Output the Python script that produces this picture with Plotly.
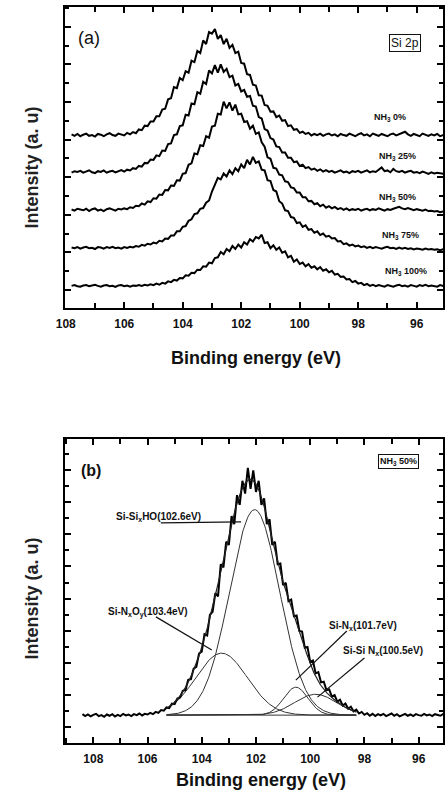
import numpy as np
import plotly.graph_objects as go

# ---------------- Panel (a): Si 2p spectra for different NH3 ratios ----------------
energy_a = [107.8, 107.7, 107.6, 107.5, 107.4, 107.3, 107.2, 107.1, 107.0, 106.9,
            106.8, 106.7, 106.6, 106.5, 106.4, 106.3, 106.2, 106.1, 106.0, 105.9,
            105.8, 105.7, 105.6, 105.5, 105.4, 105.3, 105.2, 105.1, 105.0, 104.9,
            104.8, 104.7, 104.6, 104.5, 104.4, 104.3, 104.2, 104.1, 104.0, 103.9,
            103.8, 103.7, 103.6, 103.5, 103.4, 103.3, 103.2, 103.1, 103.0, 102.9,
            102.8, 102.7, 102.6, 102.5, 102.4, 102.3, 102.2, 102.1, 102.0, 101.9,
            101.8, 101.7, 101.6, 101.5, 101.4, 101.3, 101.2, 101.1, 101.0, 100.9,
            100.8, 100.7, 100.6, 100.5, 100.4, 100.3, 100.2, 100.1, 100.0, 99.9,
            99.8, 99.7, 99.6, 99.5, 99.4, 99.3, 99.2, 99.1, 99.0, 98.9,
            98.8, 98.7, 98.6, 98.5, 98.4, 98.3, 98.2, 98.1, 98.0, 97.9,
            97.8, 97.7, 97.6, 97.5, 97.4, 97.3, 97.2, 97.1, 97.0, 96.9,
            96.8, 96.7, 96.6, 96.5, 96.4, 96.3, 96.2, 96.1, 96.0, 95.9,
            95.8, 95.7, 95.6, 95.5, 95.4, 95.3, 95.2, 95.1, 95.0]

nh3_0 = [0.02, -0.02, 0.03, -0.03, 0.01, 0.04, -0.02, 0.00, -0.04, 0.03,
         0.01, -0.03, 0.02, 0.05, 0.00, -0.02, 0.04, 0.02, -0.01, 0.06,
         0.02, 0.08, 0.05, 0.15, 0.13, 0.25, 0.24, 0.36, 0.36, 0.50,
         0.50, 0.68, 0.70, 0.95, 0.98, 1.28, 1.25, 1.52, 1.46, 1.70,
         1.66, 1.98, 1.94, 2.24, 2.18, 2.52, 2.42, 2.74, 2.70, 2.82,
         2.56, 2.66, 2.42, 2.56, 2.32, 2.40, 2.18, 2.22, 1.92, 1.90,
         1.62, 1.60, 1.34, 1.32, 1.06, 1.05, 0.80, 0.78, 0.62, 0.63,
         0.48, 0.52, 0.38, 0.40, 0.24, 0.26, 0.14, 0.16, 0.06, 0.09,
         0.03, 0.06, -0.01, 0.03, 0.00, 0.04, -0.02, 0.02, 0.04, -0.01,
         0.02, -0.03, 0.03, 0.00, -0.02, 0.04, 0.01, -0.03, 0.02, 0.05,
         -0.01, 0.02, -0.03, 0.04, 0.01, -0.02, 0.03, 0.00, -0.03, 0.02,
         0.04, -0.01, 0.02, 0.06, 0.09, 0.02, -0.02, 0.03, 0.00, -0.03,
         0.04, 0.01, -0.02, 0.02, -0.01, 0.03, -0.03, 0.00, 0.02]

nh3_25 = [-0.02, 0.02, 0.00, 0.03, -0.02, 0.01, 0.04, -0.01, -0.03, 0.02,
          0.00, 0.04, -0.02, 0.01, 0.03, -0.01, 0.02, 0.05, 0.01, 0.06,
          0.04, 0.10, 0.08, 0.16, 0.14, 0.24, 0.23, 0.33, 0.32, 0.44,
          0.42, 0.57, 0.56, 0.74, 0.76, 0.98, 1.00, 1.22, 1.24, 1.52,
          1.50, 1.82, 1.80, 2.12, 2.08, 2.40, 2.34, 2.70, 2.62, 2.84,
          2.64, 2.86, 2.66, 2.74, 2.52, 2.56, 2.30, 2.34, 2.14, 2.18,
          2.00, 2.02, 1.76, 1.74, 1.46, 1.42, 1.14, 1.10, 0.90, 0.86,
          0.68, 0.66, 0.52, 0.52, 0.38, 0.38, 0.26, 0.28, 0.16, 0.19,
          0.10, 0.13, 0.06, 0.09, 0.03, 0.07, 0.01, 0.05, 0.00, 0.03,
          -0.02, 0.02, 0.04, -0.01, 0.01, -0.03, 0.02, 0.00, 0.03, -0.02,
          0.01, 0.04, -0.01, 0.02, 0.00, 0.05, 0.12, 0.02, 0.04, -0.01,
          0.08, 0.02, 0.00, 0.03, -0.02, 0.01, 0.03, -0.02, 0.00, -0.03,
          0.01, -0.02, -0.05, -0.01, -0.04, -0.02, -0.03, -0.05, -0.03]

nh3_50 = [0.01, -0.02, 0.03, 0.00, -0.01, 0.03, -0.03, 0.02, 0.04, -0.02,
          0.01, -0.03, 0.02, 0.04, 0.00, -0.02, 0.03, 0.01, 0.04, 0.02,
          0.07, 0.05, 0.11, 0.10, 0.17, 0.14, 0.23, 0.21, 0.31, 0.30,
          0.41, 0.40, 0.53, 0.52, 0.65, 0.64, 0.79, 0.78, 0.96, 0.98,
          1.20, 1.24, 1.50, 1.48, 1.72, 1.70, 1.96, 1.92, 2.22, 2.24,
          2.56, 2.54, 2.88, 2.70, 2.86, 2.64, 2.80, 2.54, 2.56, 2.34,
          2.36, 2.16, 2.24, 2.02, 2.06, 1.80, 1.68, 1.40, 1.36, 1.12,
          1.10, 0.94, 0.92, 0.76, 0.74, 0.60, 0.58, 0.46, 0.46, 0.34,
          0.34, 0.23, 0.24, 0.15, 0.18, 0.10, 0.14, 0.06, 0.10, 0.04,
          0.08, 0.02, 0.05, 0.00, 0.04, -0.01, 0.02, 0.00, 0.03, -0.02,
          0.01, 0.03, -0.01, 0.02, 0.00, 0.04, 0.01, -0.02, 0.02, 0.00,
          0.03, 0.06, 0.08, 0.04, 0.02, 0.05, 0.01, -0.01, 0.02, 0.00,
          -0.02, 0.01, -0.03, -0.02, -0.04, -0.03, -0.06, -0.04, -0.05]

nh3_75 = [0.01, -0.01, 0.02, -0.02, 0.01, 0.03, -0.01, 0.00, -0.03, 0.02,
          0.01, -0.02, 0.02, 0.00, 0.03, -0.01, 0.01, -0.02, 0.02, 0.00,
          0.03, 0.01, 0.05, 0.03, 0.08, 0.06, 0.11, 0.09, 0.14, 0.12,
          0.19, 0.17, 0.25, 0.24, 0.33, 0.33, 0.44, 0.44, 0.56, 0.58,
          0.72, 0.76, 0.90, 0.92, 1.04, 1.06, 1.20, 1.26, 1.50, 1.68,
          1.86, 1.82, 1.98, 1.90, 2.06, 1.96, 2.12, 2.04, 2.22, 2.12,
          2.34, 2.22, 2.42, 2.26, 2.30, 2.08, 2.06, 1.80, 1.78, 1.54,
          1.50, 1.24, 1.18, 1.00, 0.98, 0.82, 0.80, 0.66, 0.68, 0.56,
          0.60, 0.48, 0.50, 0.40, 0.44, 0.34, 0.38, 0.30, 0.32, 0.25,
          0.26, 0.17, 0.18, 0.10, 0.12, 0.06, 0.09, 0.04, 0.06, 0.02,
          0.04, 0.00, 0.03, -0.01, 0.02, 0.00, -0.02, 0.01, 0.03, -0.01,
          0.00, -0.03, 0.01, -0.02, 0.00, -0.03, -0.01, -0.04, -0.02, -0.03,
          -0.05, -0.02, -0.04, -0.03, -0.05, -0.04, -0.06, -0.04, -0.05]

nh3_100 = [0.00, 0.02, -0.01, -0.02, 0.01, 0.02, -0.01, 0.01, 0.03, 0.00,
           -0.02, 0.01, 0.02, -0.01, 0.00, -0.03, 0.01, 0.02, -0.01, 0.01,
           -0.02, 0.01, 0.00, 0.02, 0.00, 0.03, 0.01, 0.04, 0.02, 0.06,
           0.03, 0.08, 0.06, 0.12, 0.10, 0.16, 0.14, 0.21, 0.20, 0.28,
           0.27, 0.35, 0.34, 0.43, 0.42, 0.52, 0.51, 0.62, 0.60, 0.74,
           0.76, 0.90, 0.84, 0.98, 0.92, 1.06, 0.98, 1.10, 1.02, 1.16,
           1.10, 1.24, 1.18, 1.30, 1.26, 1.36, 1.14, 1.16, 1.00, 1.08,
           0.96, 1.02, 0.88, 0.92, 0.76, 0.80, 0.64, 0.70, 0.58, 0.62,
           0.52, 0.58, 0.48, 0.52, 0.44, 0.50, 0.40, 0.44, 0.36, 0.40,
           0.30, 0.32, 0.24, 0.25, 0.17, 0.18, 0.10, 0.13, 0.06, 0.08,
           0.02, 0.05, 0.00, 0.03, -0.01, 0.02, 0.00, -0.02, 0.02, 0.00,
           -0.02, 0.01, 0.03, -0.01, 0.01, -0.02, 0.02, 0.00, -0.02, 0.02,
           0.00, 0.03, -0.01, 0.01, 0.00, -0.02, 0.02, 0.00, 0.02]

series_a = [nh3_0, nh3_25, nh3_50, nh3_75, nh3_100]
offsets_a = [4.12, 3.14, 2.13, 1.12, 0.11]
labels_a = ["NH<sub>3</sub> 0%", "NH<sub>3</sub> 25%", "NH<sub>3</sub> 50%",
            "NH<sub>3</sub> 75%", "NH<sub>3</sub> 100%"]
label_pos_a = [(96.91, 4.60), (96.64, 3.54), (96.64, 2.47), (96.54, 1.44), (96.38, 0.48)]

# ---------------- Panel (b): NH3 50% spectrum with peak fit ----------------
energy_b = [108.4, 108.3, 108.2, 108.1, 108.0, 107.9, 107.8, 107.7, 107.6, 107.5,
            107.4, 107.3, 107.2, 107.1, 107.0, 106.9, 106.8, 106.7, 106.6, 106.5,
            106.4, 106.3, 106.2, 106.1, 106.0, 105.9, 105.8, 105.7, 105.6, 105.5,
            105.4, 105.3, 105.2, 105.1, 105.0, 104.9, 104.8, 104.7, 104.6, 104.5,
            104.4, 104.3, 104.2, 104.1, 104.0, 103.9, 103.8, 103.7, 103.6, 103.5,
            103.4, 103.3, 103.2, 103.1, 103.0, 102.9, 102.8, 102.7, 102.6, 102.5,
            102.4, 102.3, 102.2, 102.1, 102.0, 101.9, 101.8, 101.7, 101.6, 101.5,
            101.4, 101.3, 101.2, 101.1, 101.0, 100.9, 100.8, 100.7, 100.6, 100.5,
            100.4, 100.3, 100.2, 100.1, 100.0, 99.9, 99.8, 99.7, 99.6, 99.5,
            99.4, 99.3, 99.2, 99.1, 99.0, 98.9, 98.8, 98.7, 98.6, 98.5,
            98.4, 98.3, 98.2, 98.1, 98.0, 97.9, 97.8, 97.7, 97.6, 97.5,
            97.4, 97.3, 97.2, 97.1, 97.0, 96.9, 96.8, 96.7, 96.6, 96.5,
            96.4, 96.3, 96.2, 96.1, 96.0, 95.9, 95.8, 95.7, 95.6, 95.5,
            95.4, 95.3, 95.2, 95.1, 95.0]

nh3_50_b = [0.03, -0.03, 0.02, -0.04, 0.01, 0.04, -0.03, 0.00, -0.05, 0.02,
            -0.02, 0.03, -0.04, 0.01, -0.03, 0.04, -0.01, 0.02, -0.03, 0.03,
            0.00, 0.05, -0.01, 0.04, 0.02, 0.07, 0.03, 0.10, 0.07, 0.16,
            0.14, 0.24, 0.22, 0.36, 0.34, 0.52, 0.55, 0.76, 0.78, 1.10,
            1.12, 1.45, 1.50, 1.92, 1.98, 2.52, 2.48, 3.12, 3.22, 3.80,
            3.70, 4.70, 4.60, 5.40, 5.30, 6.20, 5.95, 6.85, 6.55, 7.30,
            6.90, 7.70, 7.05, 7.62, 6.95, 7.30, 6.55, 6.75, 5.95, 6.10,
            5.30, 5.40, 4.70, 4.72, 4.05, 4.12, 3.55, 3.60, 3.08, 3.10,
            2.62, 2.60, 2.10, 2.12, 1.66, 1.70, 1.30, 1.34, 1.02, 1.04,
            0.78, 0.80, 0.58, 0.62, 0.42, 0.48, 0.30, 0.36, 0.20, 0.26,
            0.12, 0.17, 0.05, 0.10, 0.01, 0.06, -0.02, 0.04, -0.03, 0.03,
            -0.01, 0.04, -0.03, 0.02, 0.05, -0.02, 0.03, -0.04, 0.01, 0.04,
            -0.02, 0.02, -0.03, 0.03, 0.00, -0.02, 0.04, -0.01, 0.02, -0.03,
            0.03, 0.00, -0.02, 0.03, 0.01]

baseline_b = 0.37
peak_names = ["Si-Si<sub>x</sub>HO(102.6eV)", "Si-N<sub>x</sub>O<sub>y</sub>(103.4eV)",
              "Si-N<sub>x</sub>(101.7eV)", "Si-Si N<sub>x</sub>(100.5eV)"]
peak_centers = [102.05, 103.27, 100.53, 99.80]
peak_heights = [6.40, 1.93, 0.87, 0.65]
peak_sigmas = [0.92, 0.95, 0.45, 0.77]

# ---------------- Figure ----------------
W, H = 445, 803
FONT = "Liberation Sans, Arial, sans-serif"
fig = go.Figure()

for vals, off in zip(series_a, offsets_a):
    fig.add_trace(go.Scatter(x=energy_a, y=[v + off for v in vals], mode="lines",
                             line=dict(color="black", width=2),
                             xaxis="x", yaxis="y", hoverinfo="skip"))

# fit components (Gaussian peaks over a linear background)
xf = np.linspace(105.3, 98.3, 300)
env = np.zeros_like(xf)
for c, h, s in zip(peak_centers, peak_heights, peak_sigmas):
    comp = h * np.exp(-(xf - c) ** 2 / (2 * s ** 2))
    env += comp
    fig.add_trace(go.Scatter(x=xf, y=comp + baseline_b, mode="lines",
                             line=dict(color="#333", width=1),
                             xaxis="x2", yaxis="y2", hoverinfo="skip"))
fig.add_trace(go.Scatter(x=[105.3, 98.3], y=[baseline_b, baseline_b], mode="lines",
                         line=dict(color="#333", width=1), xaxis="x2", yaxis="y2"))
fig.add_trace(go.Scatter(x=energy_b, y=[v + baseline_b for v in nh3_50_b], mode="lines",
                         line=dict(color="black", width=2),
                         xaxis="x2", yaxis="y2", hoverinfo="skip"))
fig.add_trace(go.Scatter(x=xf, y=env + baseline_b, mode="lines",
                         line=dict(color="#222", width=1.2),
                         xaxis="x2", yaxis="y2", hoverinfo="skip"))


def xax(domain, rng, anchor):
    return dict(domain=domain, range=rng, anchor=anchor,
                tick0=108, dtick=2, ticks="inside", ticklen=6, tickwidth=1.5,
                tickcolor="black",
                minor=dict(tick0=108, dtick=1, ticks="inside", ticklen=5, tickwidth=1.5,
                           tickcolor="black"),
                showline=True, linewidth=2, linecolor="black", mirror="ticks",
                showgrid=False, zeroline=False, ticklabelstandoff=4,
                tickfont=dict(family=FONT, size=12, color="#111", weight="bold"))


def yax(domain, rng, anchor):
    return dict(domain=domain, range=rng, anchor=anchor,
                tick0=0, dtick=1, ticks="inside", ticklen=6, tickwidth=1.5,
                tickcolor="black",
                minor=dict(tick0=0, dtick=0.5, ticks="inside", ticklen=4, tickwidth=1.5,
                           tickcolor="black"),
                showticklabels=False,
                showline=True, linewidth=2, linecolor="black", mirror="ticks",
                showgrid=False, zeroline=False)


fig.update_layout(
    width=W, height=H, margin=dict(l=0, r=0, t=0, b=0),
    paper_bgcolor="white", plot_bgcolor="white", showlegend=False,
    xaxis=xax([57 / W, 443 / W], [108.03, 95.1], "y"),
    yaxis=yax([1 - 308 / H, 1 - 7 / H], [-0.479, 7.527], "x"),
    xaxis2=xax([57 / W, 443 / W], [109.05, 95.1], "y2"),
    yaxis2=yax([1 - 743 / H, 1 - 439 / H], [-0.498, 8.97], "x2"),
)

ann = []
C = dict(xanchor="center", yanchor="middle", showarrow=False)
# axis titles
for (px, py) in [(252, 358), (257, 780)]:
    ann.append(dict(text="<b>Binding energy (eV)</b>", x=px / W, y=1 - py / H,
                    xref="paper", yref="paper",
                    font=dict(family=FONT, size=18, color="#111"), **C))
for (px, py) in [(23, 168), (23, 599)]:
    ann.append(dict(text="<b>Intensity (a. u)</b>", x=px / W, y=1 - py / H, textangle=-90,
                    xref="paper", yref="paper",
                    font=dict(family=FONT, size=18, color="#222"), **C))

# panel (a) labels
ann.append(dict(text="(a)", x=107.2, y=6.70, xref="x", yref="y",
                font=dict(family=FONT, size=18, color="#111"), **C))
ann.append(dict(text="Si 2p", x=96.39, y=6.58, xref="x", yref="y",
                bordercolor="#111", borderwidth=1, borderpad=1,
                font=dict(family=FONT, size=12, color="#111"), **C))
for lab, (lx, ly) in zip(labels_a, label_pos_a):
    ann.append(dict(text="<b>" + lab + "</b>", x=lx, y=ly, xref="x", yref="y",
                    font=dict(family=FONT, size=9, color="#111"), **C))

# panel (b) labels
ann.append(dict(text="<b>(b)</b>", x=108.07, y=8.0, xref="x2", yref="y2",
                font=dict(family=FONT, size=16, color="#111"), **C))
ann.append(dict(text="<b>NH<sub>3</sub> 50%</b>", x=96.75, y=8.27, xref="x2", yref="y2",
                bordercolor="#111", borderwidth=1, borderpad=1,
                font=dict(family=FONT, size=9, color="#111"), **C))
label_pos_b = [(105.58, 6.54), (105.98, 3.58), (98.04, 3.15), (97.31, 2.37)]
for name, (lx, ly) in zip(peak_names, label_pos_b):
    ann.append(dict(text="<b>" + name + "</b>", x=lx, y=ly, xref="x2", yref="y2",
                    font=dict(family=FONT, size=10, color="#111"), **C))
fig.update_layout(annotations=ann)

# pointer lines for panel (b)
pointer_lines = [((105.51, 6.36), (102.55, 6.39)),
                 ((105.69, 3.43), (103.63, 2.40)),
                 ((98.65, 2.99), (100.53, 1.46)),
                 ((98.00, 2.15), (99.73, 0.93))]
for (x0, y0), (x1, y1) in pointer_lines:
    fig.add_shape(type="line", x0=x0, y0=y0, x1=x1, y1=y1, xref="x2", yref="y2",
                  line=dict(color="#111", width=1.2))

fig.write_html("out.html")
